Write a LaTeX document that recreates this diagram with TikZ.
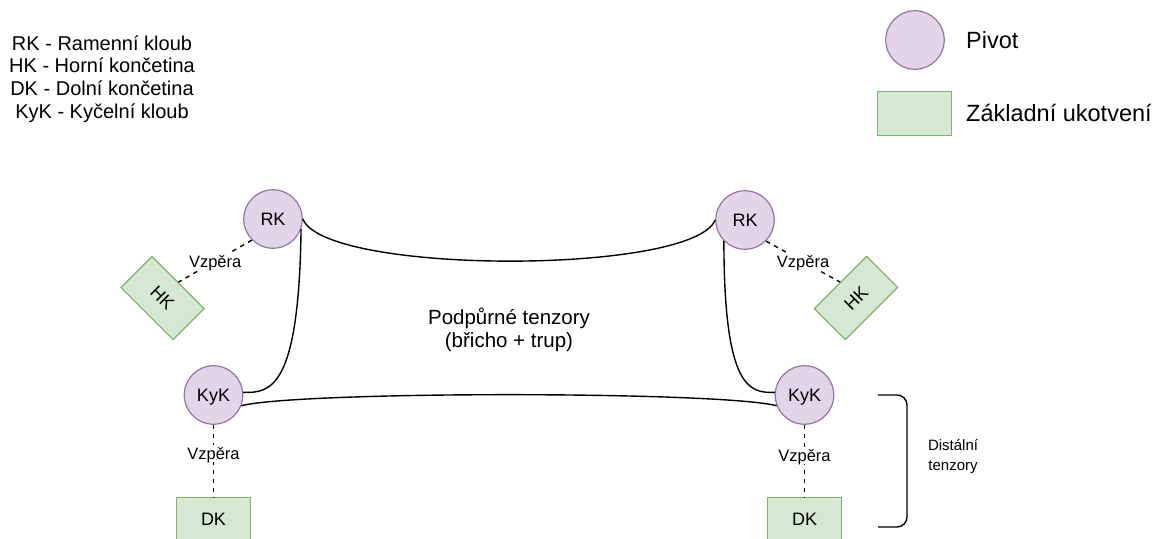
\documentclass[tikz,border=0pt]{standalone}
\usepackage{fontspec}
\setmainfont{Liberation Sans}
\definecolor{pivotfill}{HTML}{E1D5E7}
\definecolor{pivotstroke}{HTML}{9673A6}
\definecolor{anchfill}{HTML}{D5E8D4}
\definecolor{anchstroke}{HTML}{82B366}
\begin{document}
\begin{tikzpicture}[x=1pt,y=-1pt,
  pivot/.style={circle, draw=pivotstroke, fill=pivotfill, line width=1.2pt,
    minimum size=58.5pt, inner sep=0pt, font=\fontsize{18}{21}\selectfont,
    text height=12.9pt, text depth=0pt},
  anchorbox/.style={rectangle, draw=anchstroke, fill=anchfill, line width=1.2pt,
    minimum width=73.8pt, minimum height=43.8pt, inner sep=0pt,
    font=\fontsize{18}{21}\selectfont, text height=12.9pt, text depth=0pt},
  tensor/.style={line width=1.4pt, draw=black},
  strut/.style={line width=1.4pt, draw=black, dash pattern=on 4.5pt off 4.5pt},
  strutlabel/.style={fill=white, inner xsep=1.5pt, inner ysep=2.5pt,
    font=\fontsize{16.5}{19}\selectfont, text height=11.8pt, text depth=0pt},
  plain/.style={inner sep=0pt, anchor=base}
]
\useasboundingbox (0,0) rectangle (1155,538);

% abbreviations legend
\node[plain, font=\fontsize{20}{23}\selectfont] (l1) at (102,50.2) {RK - Ramenní kloub};
\node[plain, font=\fontsize{20}{23}\selectfont] (l2) at (102,72.9) {HK - Horní končetina};
\node[plain, font=\fontsize{20}{23}\selectfont] (l3) at (102,95.6) {DK - Dolní končetina};
\node[plain, font=\fontsize{20}{23}\selectfont] (l4) at (102,118.3) {KyK - Kyčelní kloub};

% shape legend
\node[pivot] (legpivot) at (915,40) {};
\node[plain, anchor=base west, font=\fontsize{23.5}{28}\selectfont] (legpivottext) at (966,48.4) {Pivot};
\node[anchorbox] (legbox) at (914.5,113.5) {};
\node[plain, anchor=base west, font=\fontsize{23.5}{28}\selectfont] (legboxtext) at (966,121.4) {Základní ukotvení};

% pivots
\node[pivot] (rkl) at (273,219) {RK};
\node[pivot] (rkr) at (745,220) {RK};
\node[pivot] (kykl) at (213.5,395) {KyK};
\node[pivot] (kykr) at (804.5,395) {KyK};

% anchors
\node[anchorbox, rotate=-45] (hkl) at (162.6,298) {HK};
\node[anchorbox, rotate=45] (hkr) at (856,298) {HK};
\node[anchorbox] (dkl) at (213.5,519.5) {DK};
\node[anchorbox] (dkr) at (804.5,519.5) {DK};

% supporting tensors
\draw[tensor] (rkl.east) .. controls (325,275) and (693,275) .. (rkr.west);
\draw[tensor] (rkl.-20) .. controls (299,390) and (270,393) .. (kykl.5);
\draw[tensor] (rkr.225) .. controls (724,390) and (750,393) .. (kykr.175);
\draw[tensor] (kykl.-21) .. controls (300,391) and (718,391) .. (kykr.201);

% struts
\draw[strut] (rkl.225) -- node[strutlabel] {Vzpěra} (hkl.north);
\draw[strut] (rkr.-45) -- node[strutlabel] {Vzpěra} (hkr.north);
\draw[strut] (kykl.south) -- node[strutlabel, pos=0.4] {Vzpěra} (dkl.north);
\draw[strut] (kykr.south) -- node[strutlabel, pos=0.42] {Vzpěra} (dkr.north);

% centre label
\node[plain, font=\fontsize{20.5}{24}\selectfont] (sup1) at (509,324.5) {Podpůrné tenzory};
\node[plain, font=\fontsize{20.5}{24}\selectfont] (sup2) at (509,347) {(břicho + trup)};

% distal bracket
\coordinate (bt) at (878,395);
\coordinate (bb) at (878,527);
\draw[tensor, rounded corners=10pt] (bt) -- (907,395) -- (907,527) -- (bb);
\node[plain, font=\fontsize{15}{18}\selectfont] (dist1) at (953,450) {Distální};
\node[plain, font=\fontsize{15}{18}\selectfont] (dist2) at (953,470) {tenzory};
\end{tikzpicture}
\end{document}
